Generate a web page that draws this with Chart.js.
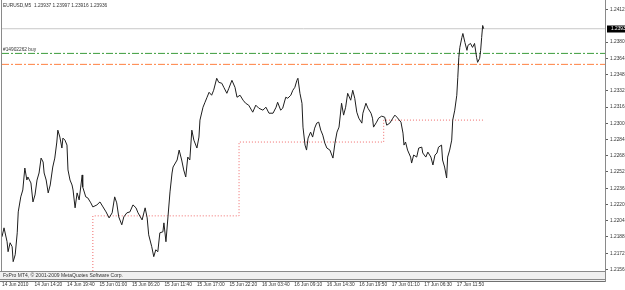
<!DOCTYPE html>
<html>
<head>
<meta charset="utf-8">
<script src="https://cdn.jsdelivr.net/npm/chart.js@4.4.0/dist/chart.umd.min.js"></script>
<style>
  html, body { margin: 0; padding: 0; background: #fff; }
  canvas { display: block; }
</style>
</head>
<body>
<canvas id="chart" width="625" height="290"></canvas>
<script>
var symbolTitle = "EURUSD,M5  1.23937 1.23997 1.23916 1.23936";
var copyrightText = "FxPro MT4, \u00a9 2001-2009 MetaQuotes Software Corp.";
var orderLabel = "#14902262 buy";

// M5 bar number (from the first bar on screen) and close price
var barIndex = [
  0, 4, 10, 12, 16, 20, 22, 26, 30, 32,
  37, 41, 45, 49, 51, 57, 61, 65, 69, 73,
  77, 81, 83, 87, 91, 95, 100, 104, 108, 110,
  114, 118, 120, 124, 128, 130, 134, 138, 140, 144,
  148, 152, 158, 159, 165, 169, 175, 179, 187, 193,
  199, 205, 211, 217, 222, 226, 230, 236, 240, 246,
  252, 258, 264, 268, 276, 282, 286, 289, 295, 299,
  303, 307, 311, 317, 319, 323, 327, 331, 335, 337,
  345, 349, 354, 358, 362, 366, 370, 374, 378, 384,
  388, 390, 396, 400, 404, 408, 413, 417, 423, 427,
  433, 437, 443, 447, 453, 459, 463, 469, 475, 480,
  486, 494, 500, 506, 514, 520, 526, 534, 540, 543,
  549, 553, 559, 563, 569, 573, 577, 581, 583, 587,
  591, 593, 597, 600, 603, 608, 612, 616, 620, 624,
  628, 632, 636, 640, 646, 652, 656, 660, 664, 669,
  673, 677, 681, 687, 691, 695, 699, 703, 709, 711,
  717, 721, 727, 730, 732, 738, 742, 748, 754, 758,
  764, 770, 774, 778, 786, 790, 792, 795, 799, 805,
  807, 811, 817, 821, 827, 829, 835, 839, 845, 849,
  853, 857, 860, 866, 868, 872, 876, 878, 882, 886,
  888, 892, 896, 898, 900, 902, 906, 908, 912, 916,
  918, 923, 927, 931, 935, 937, 941, 943, 945, 947, 949
];
var closePrice = [
  1.21887, 1.21975, 1.21838, 1.21740, 1.21828, 1.21789, 1.21642, 1.21710, 1.21926, 1.22132,
  1.22280, 1.22348, 1.22564, 1.22446, 1.22476, 1.22417, 1.22230, 1.22299, 1.22446, 1.22515,
  1.22662, 1.22623, 1.22515, 1.22446, 1.22319, 1.22397, 1.22574, 1.22662, 1.22820, 1.22937,
  1.22869, 1.22761, 1.22859, 1.22839, 1.22790, 1.22545, 1.22446, 1.22397, 1.22348, 1.22172,
  1.22319, 1.22250, 1.22496, 1.22378, 1.22280, 1.22270, 1.22221, 1.22181, 1.22201, 1.22230,
  1.22181, 1.22132, 1.22073, 1.22123, 1.22280, 1.22221, 1.22083, 1.22005, 1.22083, 1.22123,
  1.22132, 1.22201, 1.22172, 1.22123, 1.22053, 1.22172, 1.22073, 1.21906, 1.21789, 1.21691,
  1.21759, 1.21740, 1.21926, 1.21936, 1.22024, 1.21838, 1.22083, 1.22329, 1.22515, 1.22574,
  1.22643, 1.22741, 1.22643, 1.22545, 1.22476, 1.22672, 1.22643, 1.22937, 1.22839, 1.22761,
  1.22869, 1.23036, 1.23163, 1.23212, 1.23261, 1.23310, 1.23281, 1.23330, 1.23448, 1.23408,
  1.23399, 1.23359, 1.23300, 1.23350, 1.23428, 1.23359, 1.23261, 1.23281, 1.23232, 1.23202,
  1.23183, 1.23114, 1.23183, 1.23153, 1.23134, 1.23163, 1.23104, 1.23104, 1.23163, 1.23212,
  1.23134, 1.23153, 1.23261, 1.23251, 1.23281, 1.23330, 1.23359, 1.23428, 1.23448, 1.23300,
  1.23202, 1.22967, 1.22790, 1.22741, 1.22859, 1.22918, 1.22869, 1.22957, 1.23006, 1.23016,
  1.22937, 1.22888, 1.22810, 1.22761, 1.22741, 1.22662, 1.22810, 1.22918, 1.22967, 1.23202,
  1.23085, 1.23163, 1.23300, 1.23232, 1.23330, 1.23251, 1.23114, 1.23055, 1.23006, 1.23104,
  1.23202, 1.23153, 1.23104, 1.23055, 1.22967, 1.23016, 1.23055, 1.23075, 1.23065, 1.22986,
  1.23006, 1.23055, 1.23085, 1.23065, 1.23016, 1.22908, 1.22790, 1.22820, 1.22741, 1.22672,
  1.22613, 1.22692, 1.22672, 1.22761, 1.22770, 1.22712, 1.22672, 1.22721, 1.22672, 1.22594,
  1.22692, 1.22712, 1.22770, 1.22790, 1.22643, 1.22574, 1.22466, 1.22672, 1.22741, 1.22839,
  1.23036, 1.23134, 1.23281, 1.23458, 1.23654, 1.23752, 1.23850, 1.23889, 1.23801, 1.23723,
  1.23772, 1.23791, 1.23752, 1.23791, 1.23654, 1.23605, 1.23644, 1.23723, 1.23850, 1.23968, 1.23936
];

// trailing stop steps (red dotted)
var stopBars = [179, 179, 467, 752, 949];
var stopLevels = [1.21550, 1.22093, 1.22820, 1.23036, 1.23036];

var bidPrice = 1.23936;
var openPrice = 1.23693;
var targetPrice = 1.23585;

var timeTickBars = [0, 64, 128, 192, 256, 320, 384, 448, 512, 576, 640, 704, 768, 832, 896];
var timeTickLabels = ["14 Jun 2010", "14 Jun 14:20", "14 Jun 19:40", "15 Jun 01:00", "15 Jun 06:20",
  "15 Jun 11:40", "15 Jun 17:00", "15 Jun 22:20", "16 Jun 03:40", "16 Jun 09:10",
  "16 Jun 14:30", "16 Jun 19:50", "17 Jun 01:10", "17 Jun 06:30", "17 Jun 11:50"];
var priceTicks = [1.24125, 1.23805, 1.23645, 1.23485, 1.23325, 1.23165, 1.23005, 1.22845,
  1.22685, 1.22525, 1.22365, 1.22205, 1.22045, 1.21885, 1.21725, 1.21565];

var barMin = 0, barMax = 1188;
var priceMin = 1.21550, priceMax = 1.24209;

var smallFont = '"Liberation Sans", Arial, sans-serif';

function flatLine(level) {
  return [{x: barMin, y: level}, {x: barMax, y: level}];
}

// scales should not push the plot around for their labels
function noPadding(scale) {
  scale.paddingLeft = 0;
  scale.paddingRight = 0;
  scale.paddingTop = 0;
  scale.paddingBottom = 0;
}

var mtDecor = {
  id: 'mtDecor',
  afterDraw: function(chart) {
    var ctx = chart.ctx;
    var area = chart.chartArea;
    var yScale = chart.scales.y;
    ctx.save();

    // copyright strip under the plot
    var top = area.bottom;
    ctx.fillStyle = '#f0f0f0';
    ctx.fillRect(0, top, area.right + 1, 11);
    ctx.lineWidth = 1;
    [[top + 0.5, '#8a8a8a'], [top + 8.5, '#8a8a8a'], [top + 10.5, '#707070']].forEach(function(l) {
      ctx.strokeStyle = l[1];
      ctx.beginPath(); ctx.moveTo(0, l[0]); ctx.lineTo(area.right + 1, l[0]); ctx.stroke();
    });

    // frame
    ctx.strokeStyle = '#8a8a8a';
    ctx.beginPath();
    ctx.moveTo(area.left - 0.5, 0); ctx.lineTo(area.left - 0.5, top);
    ctx.moveTo(area.right + 0.5, 0); ctx.lineTo(area.right + 0.5, top + 11);
    ctx.stroke();

    ctx.fillStyle = '#333';
    ctx.textAlign = 'left';
    ctx.textBaseline = 'middle';
    ctx.font = '5px ' + smallFont;
    ctx.fillText(copyrightText, area.left + 1, top + 4.5);

    ctx.font = '4.8px ' + smallFont;
    ctx.fillText(symbolTitle, area.left + 1, 6);
    ctx.fillText(orderLabel, area.left + 1, yScale.getPixelForValue(openPrice) - 3.5);

    // current bid box on the price scale
    var yBid = yScale.getPixelForValue(bidPrice);
    ctx.fillStyle = '#000';
    ctx.fillRect(area.right + 2, Math.round(yBid) - 3.5, chart.width - area.right - 2, 7);
    ctx.fillStyle = '#fff';
    ctx.fillText(bidPrice.toFixed(5), area.right + 6, yBid);
    ctx.restore();
  }
};

var chart = new Chart(document.getElementById("chart"), {
  type: 'line',
  data: {
    datasets: [{
      data: barIndex.map(function(b, i) { return {x: b, y: closePrice[i]}; }),
      borderColor: '#1e1e1e',
      borderWidth: 1,
      pointRadius: 0,
      tension: 0
    }, {
      data: flatLine(bidPrice),
      borderColor: '#c8c8c8',
      borderWidth: 1,
      pointRadius: 0
    }, {
      data: flatLine(openPrice),
      borderColor: '#3c9c3c',
      borderWidth: 1,
      borderDash: [7, 2, 2, 2],
      pointRadius: 0
    }, {
      data: flatLine(targetPrice),
      borderColor: '#ff8040',
      borderWidth: 1,
      borderDash: [7, 2, 2, 2],
      pointRadius: 0
    }, {
      data: stopBars.map(function(b, i) { return {x: b, y: stopLevels[i]}; }),
      stepped: 'before',
      borderColor: '#f06a6a',
      borderWidth: 1,
      borderDash: [1, 2],
      pointRadius: 0
    }]
  },
  options: {
    responsive: false,
    animation: false,
    devicePixelRatio: 1,
    layout: { padding: { left: 2, top: 1, right: 0, bottom: 0 } },
    plugins: { legend: { display: false }, tooltip: { enabled: false } },
    scales: {
      x: {
        type: 'linear',
        min: barMin,
        max: barMax,
        grid: { display: false, drawTicks: false },
        border: { display: false },
        afterBuildTicks: function(scale) {
          scale.ticks = timeTickBars.map(function(v) { return {value: v}; });
        },
        afterFit: function(scale) { scale.height = 19; noPadding(scale); },
        ticks: {
          autoSkip: false,
          maxRotation: 0,
          align: 'start',
          padding: 11,
          color: '#333',
          font: { family: smallFont, size: 4.8 },
          callback: function(value, index) { return timeTickLabels[index]; }
        }
      },
      y: {
        position: 'right',
        min: priceMin,
        max: priceMax,
        grid: { drawOnChartArea: false, drawTicks: true, tickLength: 3, color: '#606060' },
        border: { display: false },
        afterBuildTicks: function(scale) {
          scale.ticks = priceTicks.map(function(v) { return {value: v}; });
        },
        afterFit: function(scale) { scale.width = 20; noPadding(scale); },
        ticks: {
          autoSkip: false,
          padding: 2,
          color: '#333',
          font: { family: smallFont, size: 4.8 },
          callback: function(value) { return value.toFixed(5); }
        }
      }
    }
  },
  plugins: [mtDecor]
});
</script>
</body>
</html>
